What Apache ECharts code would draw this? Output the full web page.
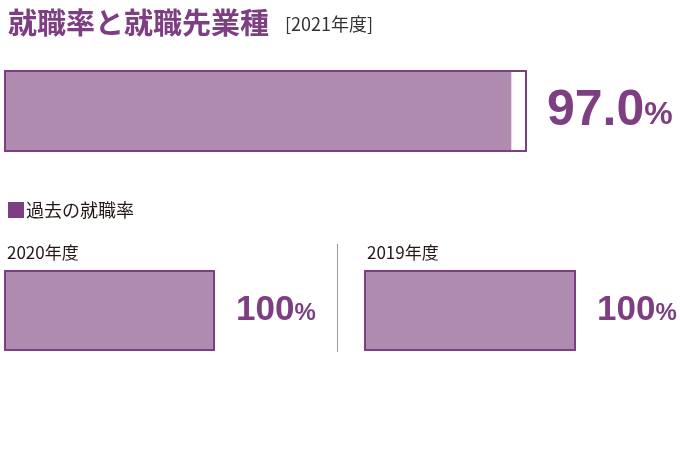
<!DOCTYPE html>
<html>
<head>
<meta charset="utf-8">
<script src="https://cdn.jsdelivr.net/npm/echarts@6/dist/echarts.min.js"></script>
<style>
  html, body { margin: 0; padding: 0; background: #fff; }
  #chart { width: 680px; height: 450px; }
</style>
</head>
<body>
<div id="chart"></div>
<script>
// data
var years = ['2021年度', '2020年度', '2019年度']
var rates = [97.0, 100, 100]
var rateLabels = ['97.0', '100', '100']
var scaleMax = 100

var purple = '#7d3e82'
var fillColor = '#b08bb0'
var jp = '"Noto Sans CJK JP", sans-serif'
var num = '"Liberation Sans", Arial, sans-serif'

var chart = echarts.init(document.getElementById('chart'))

// one grid per bar: [left, top, width, height]
var boxes = [
  [4, 70, 523, 82],
  [4, 270, 211, 81],
  [364, 270, 212, 81]
]
var bigSize = [50, 35, 35]
var pctSize = [32, 24, 24]

var grids = [], xAxes = [], yAxes = [], series = []
boxes.forEach(function (b, i) {
  grids.push({ left: b[0], top: b[1], width: b[2], height: b[3] })
  xAxes.push({ type: 'value', gridIndex: i, min: 0, max: scaleMax, show: false })
  yAxes.push({ type: 'category', gridIndex: i, data: [years[i]], show: false })
  // filled part
  series.push({
    type: 'bar', xAxisIndex: i, yAxisIndex: i,
    barWidth: '100%', barGap: '-100%',
    itemStyle: { color: fillColor },
    silent: true, animation: false,
    data: [rates[i]]
  })
  // outline frame at full scale
  series.push({
    type: 'bar', xAxisIndex: i, yAxisIndex: i,
    barWidth: '100%', barGap: '-100%',
    itemStyle: { color: 'rgba(0,0,0,0)', borderColor: purple, borderWidth: 2 },
    label: {
      show: true, position: 'right', distance: i === 0 ? 20 : 21,
      formatter: function () { return '{n|' + rateLabels[i] + '}{p|%}' },
      rich: {
        n: { fontFamily: num, fontWeight: 'bold', fontSize: bigSize[i], color: purple },
        p: { fontFamily: num, fontWeight: 'bold', fontSize: pctSize[i], color: purple, verticalAlign: 'bottom', padding: [0, 0, i === 0 ? 5 : 3, 0] }
      }
    },
    silent: true, animation: false,
    data: [scaleMax]
  })
})

chart.setOption({
  animation: false,
  title: [
    {
      text: '{a|就職率と就職先業種}{g|}{b|[2021年度]}',
      left: 3, top: 3,
      textStyle: {
        rich: {
          a: { fontFamily: jp, fontWeight: 'bold', fontSize: 29, color: purple },
          g: { width: 16 },
          b: { fontFamily: jp, fontWeight: 'normal', fontSize: 18, color: '#333333', verticalAlign: 'bottom', padding: [0, 0, 4, 0] }
        }
      }
    },
    {
      text: '{s|■}過去の就職率',
      left: 1, top: 195,
      textStyle: { fontFamily: jp, fontWeight: 'normal', fontSize: 18, color: '#231815',
        rich: { s: { fontFamily: jp, fontSize: 20, color: purple } } }
    },
    {
      text: years[1], left: 2, top: 239,
      textStyle: { fontFamily: jp, fontWeight: 'normal', fontSize: 17, color: '#231815' }
    },
    {
      text: years[2], left: 362, top: 239,
      textStyle: { fontFamily: jp, fontWeight: 'normal', fontSize: 17, color: '#231815' }
    }
  ],
  graphic: [
    { type: 'line', shape: { x1: 337.5, y1: 244, x2: 337.5, y2: 352 }, style: { stroke: '#999999', lineWidth: 1 } }
  ],
  grid: grids,
  xAxis: xAxes,
  yAxis: yAxes,
  series: series
})
</script>
</body>
</html>
